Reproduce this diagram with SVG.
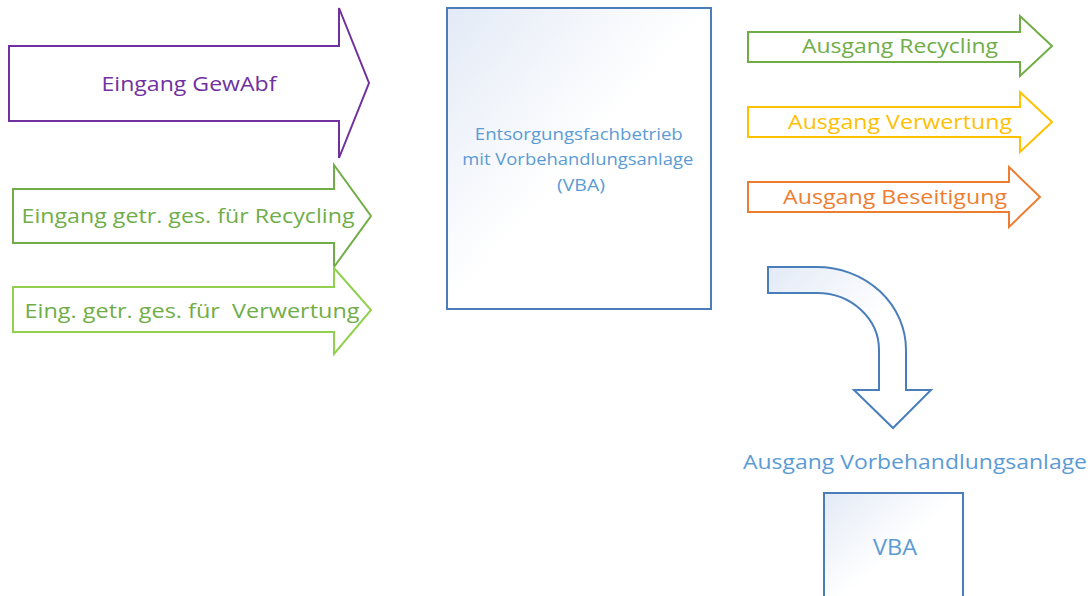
<svg xmlns="http://www.w3.org/2000/svg" width="1092" height="596" viewBox="0 0 1092 596">
<style>
.t{font-family:"Open Sans","Noto Sans","Liberation Sans",sans-serif;text-anchor:middle}
.a{fill:#fff;stroke-width:2;stroke-linejoin:miter}
.b{stroke:#4A7EBB;stroke-width:2;fill:url(#g)}
</style>
<defs>
<linearGradient id="g" x1="0" y1="0" x2="1" y2="1">
<stop offset="0" stop-color="#E3EAF6"/>
<stop offset="0.5" stop-color="#FFFFFF"/>
<stop offset="1" stop-color="#FFFFFF"/>
</linearGradient>
</defs>
<rect width="1092" height="596" fill="#fff"/>
<g id="in-gewabf">
<path class="a" stroke="#7030A0" d="M9,46 H339 V8 L369,83 L339,158 V121 H9 Z"/>
<text class="t" x="189" y="91" font-size="20" fill="#7030A0" textLength="175" lengthAdjust="spacingAndGlyphs">Eingang GewAbf</text>
</g>
<g id="in-recycling">
<path class="a" stroke="#70AD47" d="M13,189 H334 V165 L371,216 L334,267 V243 H13 Z"/>
<text class="t" x="188" y="223" font-size="20" fill="#70AD47" textLength="333" lengthAdjust="spacingAndGlyphs">Eingang getr. ges. für Recycling</text>
</g>
<g id="in-verwertung">
<path class="a" stroke="#92D050" d="M13,287 H334 V268 L371,310 L334,354 V332 H13 Z"/>
<text class="t" x="192" y="318" font-size="20" fill="#70AD47" textLength="335" lengthAdjust="spacingAndGlyphs" xml:space="preserve">Eing. getr. ges. für  Verwertung</text>
</g>
<g id="vba-main">
<rect class="b" x="447" y="8" width="264" height="301"/>
<text class="t" font-size="17" fill="#5B9BD5">
<tspan x="581" y="140" textLength="208" lengthAdjust="spacingAndGlyphs">Entsorgungsfachbetrieb</tspan>
<tspan x="580" y="165" textLength="231" lengthAdjust="spacingAndGlyphs">mit Vorbehandlungsanlage</tspan>
<tspan x="581" y="191" textLength="48" lengthAdjust="spacingAndGlyphs">(VBA)</tspan>
</text>
</g>
<g id="out-recycling">
<path class="a" stroke="#70AD47" d="M748,32 H1020 V16 L1052,46 L1020,76 V62 H748 Z"/>
<text class="t" x="900" y="53" font-size="20" fill="#70AD47" textLength="196" lengthAdjust="spacingAndGlyphs">Ausgang Recycling</text>
</g>
<g id="out-verwertung">
<path class="a" stroke="#FFC000" d="M748,107 H1020 V92 L1052,122 L1020,152 V137 H748 Z"/>
<text class="t" x="900" y="129" font-size="20" fill="#FFC000" textLength="224" lengthAdjust="spacingAndGlyphs">Ausgang Verwertung</text>
</g>
<g id="out-beseitigung">
<path class="a" stroke="#ED7D31" d="M748,182 H1009 V167 L1040,197 L1009,227 V212 H748 Z"/>
<text class="t" x="895" y="204" font-size="20" fill="#ED7D31" textLength="224" lengthAdjust="spacingAndGlyphs">Ausgang Beseitigung</text>
</g>
<g id="connectors">
<path class="b" d="M768,267 H817 A89,83 0 0 1 906,350 V390 H931 L893,428 L854,390 H879 V350 A62,57 0 0 0 817,293 H768 Z"/>
</g>
<g id="out-vba-label">
<text class="t" x="915" y="469" font-size="20" fill="#5B9BD5" textLength="344" lengthAdjust="spacingAndGlyphs">Ausgang Vorbehandlungsanlage</text>
</g>
<g id="vba-small">
<rect class="b" x="824" y="493" width="139" height="120"/>
<text class="t" x="895" y="555" font-size="21" fill="#5B9BD5" textLength="44" lengthAdjust="spacingAndGlyphs">VBA</text>
</g>
</svg>
